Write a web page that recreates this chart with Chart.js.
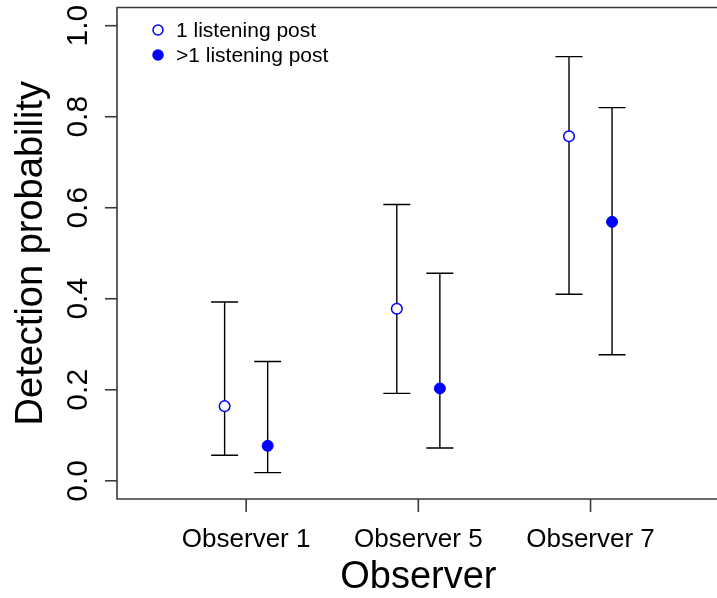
<!DOCTYPE html>
<html>
<head>
<meta charset="utf-8">
<script src="https://cdn.jsdelivr.net/npm/chart.js@4.4.1/dist/chart.umd.min.js"></script>
<style>
  html, body { margin: 0; padding: 0; background: #fff; overflow: hidden; }
</style>
</head>
<body>
<canvas id="c" width="717" height="598"></canvas>
<script>
// Detection probability by observer, with 95% intervals

const observers = ["Observer 1", "Observer 5", "Observer 7"];
const yTicks = [0.0, 0.2, 0.4, 0.6, 0.8, 1.0];

// 1 listening post (open circles)
const singleEst = [0.164, 0.378, 0.757];
const singleLow = [0.056, 0.192, 0.410];
const singleHigh = [0.393, 0.607, 0.932];

// >1 listening post (filled circles)
const multiEst = [0.077, 0.203, 0.569];
const multiLow = [0.018, 0.072, 0.277];
const multiHigh = [0.262, 0.456, 0.820];

const shift = 0.125;
const font = '"Liberation Sans", Arial, Helvetica, sans-serif';

function pts(est, dx) {
  return est.map((v, i) => ({ x: i + 1 + dx, y: v }));
}

const rPlot = {
  id: 'rPlot',
  beforeDatasetsDraw(chart) {
    const ctx = chart.ctx;
    const xs = chart.scales.x, ys = chart.scales.y;
    ctx.save();
    ctx.strokeStyle = '#000';
    ctx.lineWidth = 1.4;
    const bars = [[singleLow, singleHigh, -shift], [multiLow, multiHigh, shift]];
    bars.forEach(([lo, hi, dx]) => {
      lo.forEach((v, i) => {
        const px = xs.getPixelForValue(i + 1 + dx);
        const y1 = ys.getPixelForValue(v), y2 = ys.getPixelForValue(hi[i]);
        ctx.beginPath();
        ctx.moveTo(px, y1); ctx.lineTo(px, y2);
        ctx.moveTo(px - 13.5, y1); ctx.lineTo(px + 13.5, y1);
        ctx.moveTo(px - 13.5, y2); ctx.lineTo(px + 13.5, y2);
        ctx.stroke();
      });
    });
    ctx.restore();
  },
  afterDraw(chart) {
    const ctx = chart.ctx;
    const a = chart.chartArea;
    const xs = chart.scales.x, ys = chart.scales.y;
    ctx.save();
    // box (right side falls outside the frame)
    ctx.strokeStyle = '#3a3a3a';
    ctx.lineWidth = 1.6;
    ctx.beginPath();
    ctx.moveTo(chart.width + 2, a.top);
    ctx.lineTo(a.left, a.top);
    ctx.lineTo(a.left, a.bottom);
    ctx.lineTo(chart.width + 2, a.bottom);
    ctx.stroke();
    // y ticks + labels
    ctx.fillStyle = '#000';
    yTicks.forEach(t => {
      const py = ys.getPixelForValue(t);
      ctx.beginPath();
      ctx.moveTo(a.left - 12, py); ctx.lineTo(a.left, py);
      ctx.stroke();
      ctx.save();
      ctx.translate(87, py);
      ctx.rotate(-Math.PI / 2);
      ctx.font = '30px ' + font;
      ctx.textAlign = 'center';
      ctx.textBaseline = 'alphabetic';
      ctx.fillText(t.toFixed(1), 0, 0);
      ctx.restore();
    });
    // x ticks + labels
    observers.forEach((lab, i) => {
      const px = xs.getPixelForValue(i + 1);
      ctx.beginPath();
      ctx.moveTo(px, a.bottom); ctx.lineTo(px, a.bottom + 13);
      ctx.stroke();
      ctx.font = '26px ' + font;
      ctx.textAlign = 'center';
      ctx.textBaseline = 'alphabetic';
      ctx.fillText(lab, px, 546.5);
    });
    // axis titles
    ctx.font = '38px ' + font;
    ctx.textAlign = 'center';
    ctx.fillText('Observer', xs.getPixelForValue(2), 588);
    ctx.save();
    ctx.translate(42, (a.top + a.bottom) / 2);
    ctx.rotate(-Math.PI / 2);
    ctx.fillText('Detection probability', 0, 0);
    ctx.restore();
    // legend
    ctx.font = '21px ' + font;
    ctx.textAlign = 'left';
    ctx.textBaseline = 'middle';
    chart.data.datasets.forEach((ds, i) => {
      const ly = 30 + i * 25;
      ctx.beginPath();
      ctx.arc(158, ly, 5, 0, Math.PI * 2);
      ctx.fillStyle = ds.backgroundColor;
      ctx.fill();
      ctx.strokeStyle = ds.borderColor;
      ctx.lineWidth = 1.5;
      ctx.stroke();
      ctx.fillStyle = '#000';
      ctx.fillText(ds.label, 176, ly + 1);
    });
    ctx.restore();
  }
};

new Chart(document.getElementById('c'), {
  type: 'scatter',
  data: {
    datasets: [
      {
        label: '1 listening post',
        data: pts(singleEst, -shift),
        backgroundColor: '#ffffff',
        borderColor: '#0000ff',
        borderWidth: 1.5,
        pointRadius: 5.3
      },
      {
        label: '>1 listening post',
        data: pts(multiEst, shift),
        backgroundColor: '#0000ff',
        borderColor: '#0000ff',
        borderWidth: 1,
        pointRadius: 5.5
      }
    ]
  },
  options: {
    responsive: false,
    animation: false,
    layout: { padding: { left: 117, top: 7.5, right: 0, bottom: 99 } },
    plugins: { legend: { display: false }, tooltip: { enabled: false } },
    scales: {
      x: { type: 'linear', min: 0.25, max: 3.695, display: false },
      y: { type: 'linear', min: -0.04, max: 1.04, display: false }
    }
  },
  plugins: [rPlot]
});
</script>
</body>
</html>
